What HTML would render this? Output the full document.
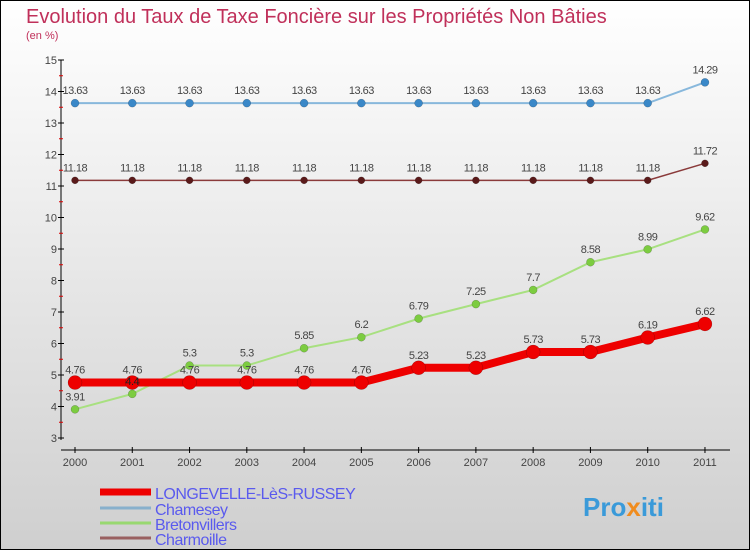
<!DOCTYPE html>
<html><head><meta charset="utf-8"><style>
body{margin:0}
svg{display:block;font-family:"Liberation Sans","DejaVu Sans",sans-serif}
</style></head><body>
<svg width="750" height="550">
<defs><linearGradient id="bg" x1="0" y1="0" x2="0" y2="1"><stop offset="0" stop-color="#ffffff"/><stop offset="1" stop-color="#cfcfcf"/></linearGradient></defs>
<rect x="0.5" y="0.5" width="749" height="549" fill="url(#bg)" stroke="#000"/>
<text x="26" y="23" font-size="20" fill="#c0305a">Evolution du Taux de Taxe Foncière sur les Propriétés Non Bâties</text>
<text x="26" y="39" font-size="11" fill="#c0305a">(en %)</text>
<g id="axes"></g><g id="series"></g><g id="labels"></g><g id="legend"></g>
<text x="583" y="516" font-size="26" font-weight="bold" fill="#3a9ad9">Pro<tspan fill="#f08c1e">x</tspan>iti</text>
</svg>
<script>
const years=[2000,2001,2002,2003,2004,2005,2006,2007,2008,2009,2010,2011];
const yTicks=[3,4,5,6,7,8,9,10,11,12,13,14,15];
const longevelle=[4.76,4.76,4.76,4.76,4.76,4.76,5.23,5.23,5.73,5.73,6.19,6.62];
const chamesey=[13.63,13.63,13.63,13.63,13.63,13.63,13.63,13.63,13.63,13.63,13.63,14.29];
const bretonvillers=[3.91,4.4,5.3,5.3,5.85,6.2,6.79,7.25,7.7,8.58,8.99,9.62];
const charmoille=[11.18,11.18,11.18,11.18,11.18,11.18,11.18,11.18,11.18,11.18,11.18,11.72];
const names=["LONGEVELLE-LèS-RUSSEY","Chamesey","Bretonvillers","Charmoille"];
const NS="http://www.w3.org/2000/svg";
const X=i=>75+i*57.27, Y=v=>438-(v-3)*31.5;
function mk(tag,attrs,parent){const e=document.createElementNS(NS,tag);for(const k in attrs)e.setAttribute(k,attrs[k]);parent.appendChild(e);return e;}
const ax=document.getElementById('axes');
let e=mk('line',{x1:61,y1:60,x2:61,y2:440,stroke:'#000','stroke-width':1},ax);

e=mk('line',{x1:61,y1:450,x2:730,y2:450,stroke:'#000','stroke-width':1},ax);

yTicks.forEach(v=>{mk('line',{x1:58,y1:Y(v),x2:64,y2:Y(v),stroke:'#000'},ax);
 if(v<15){mk('line',{x1:59,y1:Y(v+0.5),x2:63,y2:Y(v+0.5),stroke:'#d00'},ax);}
 const t=mk('text',{x:57,y:Y(v)+4,'font-size':11,fill:'#444','text-anchor':'end'},ax);t.textContent=v;
 });
years.forEach((y,i)=>{mk('line',{x1:X(i),y1:447,x2:X(i),y2:453,stroke:'#000'},ax);
 const t=mk('text',{x:X(i),y:466,'font-size':11,fill:'#444','text-anchor':'middle'},ax);t.textContent=y;
 });
const sg=document.getElementById('series'), lab=document.getElementById('labels');
function series(data,color,dot,lw,r,name,dark){
 const g=mk('g',{},sg);
 mk('polyline',{points:data.map((v,i)=>X(i)+','+Y(v)).join(' '),fill:'none',stroke:color,'stroke-width':lw},g);
 data.forEach((v,i)=>{const c=mk('circle',{cx:X(i),cy:Y(v),r:r,fill:dot,stroke:'rgba(0,0,0,0.3)','stroke-width':0.5},g);
  
  const t=mk('text',{x:X(i),y:Y(v)-9,'font-size':11,fill:(dark&&i===1)?'#222':'#444','text-anchor':'middle','letter-spacing':'-0.5'},lab);t.textContent=v;
  });
}
series(chamesey,'#88b8dc','#3a88c8',2,4,'chamesey-series');
series(charmoille,'#8a3a3a','#5a1a1a',1.5,3.5,'charmoille-series');
series(bretonvillers,'#a8e080','#7ccc40',2,4,'bretonvillers-series',true);
series(longevelle,'#ee0000','#ee0000',8,7,'longevelle-series');
const lg=document.getElementById('legend');
const lc=['#ee0000','#88b0cc','#98d870','#996060'],lw=[7,3,3,3],ly=[492,508,523,538];
names.forEach((n,i)=>{const g=mk('g',{},lg);
 mk('line',{x1:100,y1:ly[i],x2:151,y2:ly[i],stroke:lc[i],'stroke-width':lw[i]},g);
 const t=mk('text',{x:155,y:ly[i]+7,'font-size':16,fill:'#5a5aee','letter-spacing':'-0.5'},g);t.textContent=n;});
</script>
</body></html>
